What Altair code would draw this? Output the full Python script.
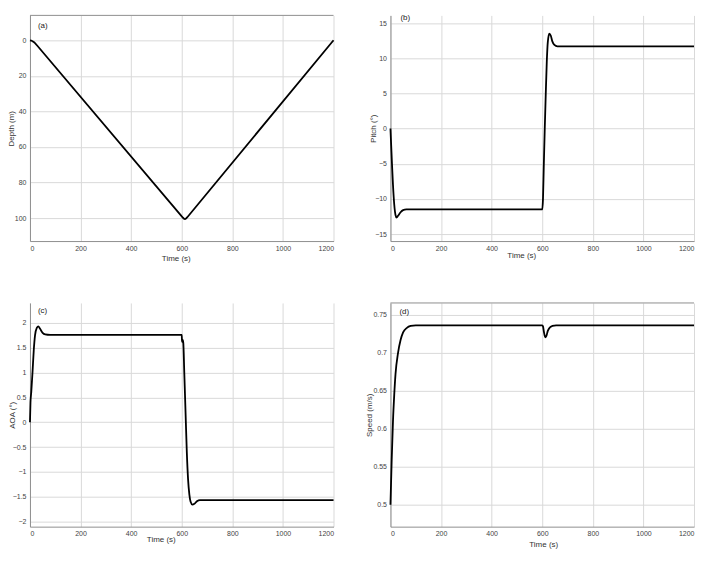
import altair as alt
import pandas as pd

FONT = "Liberation Sans"

# ---------------- data ----------------
depth_t = [0, 5, 10, 15, 20, 30, 600, 605, 610, 613, 617, 622, 1200]
depth_v = [0, 0.15, 0.5, 1.0, 1.6, 3.2, 99.0, 99.8, 100.4, 100.5, 100.2, 99.5, 0]

pitch_t = [0, 3, 6, 10, 15, 20, 24, 30, 40, 50, 63, 600, 603, 606, 610, 614, 618,
           622, 628, 634, 640, 648, 660, 1200]
pitch_v = [0, -2.5, -5, -8, -10.8, -12.3, -12.65, -12.4, -11.9, -11.6, -11.5, -11.5,
           -10.0, -5.5, 0.0, 5.0, 9.5, 12.3, 13.5, 13.2, 12.4, 11.9, 11.7, 11.7]

aoa_t = [0, 2, 5, 10, 15, 20, 27, 33, 40, 50, 60, 80, 600, 601, 603, 606, 610, 615,
         620, 625, 630, 635, 642, 650, 660, 672, 1200]
aoa_v = [0, 0.4, 0.6, 1.0, 1.45, 1.75, 1.9, 1.93, 1.88, 1.8, 1.77, 1.76, 1.76, 1.62,
         1.66, 1.6, 1.0, 0.2, -0.6, -1.15, -1.45, -1.6, -1.655, -1.64, -1.59, -1.565,
         -1.565]

speed_t = [0, 5, 10, 15, 20, 30, 40, 50, 65, 80, 100, 600, 603, 607, 612, 616, 622,
           630, 640, 655, 1200]
speed_v = [0.5, 0.56, 0.61, 0.645, 0.672, 0.70, 0.717, 0.727, 0.733, 0.7355, 0.7364,
           0.7364, 0.735, 0.727, 0.7205, 0.722, 0.729, 0.7335, 0.7355, 0.7364, 0.7364]

x_ticks = [0, 200, 400, 600, 800, 1000, 1200]
depth_ticks = [0, 20, 40, 60, 80, 100]
pitch_ticks = [-15, -10, -5, 0, 5, 10, 15]
aoa_ticks = [-2, -1.5, -1, -0.5, 0, 0.5, 1, 1.5, 2]
speed_ticks = [0.5, 0.55, 0.6, 0.65, 0.7, 0.75]

W = 304


def panel(t, v, ytitle, ydomain, yticks, yfmt, label, h, reverse=False, interp="monotone",
          xtx=152, xty=16, ytx=-18, lab_x=8, lab_y=10, top_border=False):
    df = pd.DataFrame({"t": t, "v": v})
    line = alt.Chart(df).mark_line(color="black", strokeWidth=1.8,
                                   interpolate=interp).encode(
        x=alt.X("t:Q",
                scale=alt.Scale(domain=[0, 1200], nice=False, zero=False),
                axis=alt.Axis(values=x_ticks, format="d", title="Time (s)",
                              titleX=xtx, titleY=xty, titleAlign="center",
                              titleBaseline="middle")),
        y=alt.Y("v:Q",
                scale=alt.Scale(domain=ydomain, nice=False, zero=False, reverse=reverse),
                axis=alt.Axis(values=yticks, format=yfmt, title=ytitle,
                              titleX=ytx, titleBaseline="middle", titleAlign="center")),
    )
    txt = alt.Chart(pd.DataFrame({"lab": [label]})).mark_text(
        align="left", baseline="middle", fontSize=8, font=FONT, color="#222222"
    ).encode(x=alt.value(lab_x), y=alt.value(lab_y), text="lab:N")
    layers = [line, txt]
    if top_border:
        rule = alt.Chart(pd.DataFrame({"a": [0]})).mark_rule(
            color="#8f8f8f", strokeWidth=1).encode(
            x=alt.value(0), x2=alt.value(W), y=alt.value(0))
        layers.append(rule)
    return alt.layer(*layers).properties(width=W, height=h)


pa = panel(depth_t, depth_v, "Depth (m)", [-14.0, 112.9], depth_ticks, "d", "(a)", 226,
           reverse=True, interp="linear", xtx=146, xty=17, ytx=-18, lab_x=8, lab_y=11,
           top_border=True)
pb = panel(pitch_t, pitch_v, "Pitch (°)", [-16.0, 16.1], pitch_ticks, "d", "(b)", 226,
           xtx=131, xty=14, ytx=-17, lab_x=10, lab_y=3)
pc = panel(aoa_t, aoa_v, "AOA (°)", [-2.10, 2.40], aoa_ticks, ".1~f", "(c)", 224,
           xtx=131, xty=13, ytx=-17.5, lab_x=8, lab_y=8)
pd_ = panel(speed_t, speed_v, "Speed (m/s)", [0.4711, 0.7658], speed_ticks, ".2~f", "(d)", 224,
            xtx=153, xty=18, ytx=-21, lab_x=9, lab_y=9, top_border=True)

chart = alt.concat(pa, pb, pc, pd_, columns=2,
                   spacing={"row": 62, "column": 57}, bounds="flush").properties(
    padding={"left": 0, "top": 6, "right": 5, "bottom": 5}
).configure_view(stroke=None).configure_axis(
    labelFont=FONT, titleFont=FONT, labelFontSize=7, titleFontSize=8,
    titleFontWeight="normal", labelColor="#444444", titleColor="#333333",
    gridColor="#d9d9d9", gridWidth=1, domainColor="#8f8f8f", domainWidth=1,
    tickSize=0, labelPadding=4
).configure_axisX(labelPadding=3)

chart.save("out.html", embed_options={"renderer": "svg", "actions": False})
